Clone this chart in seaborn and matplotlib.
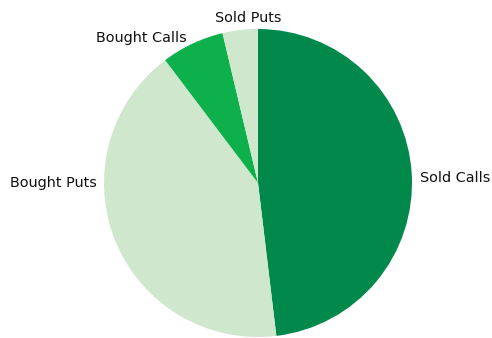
import matplotlib
matplotlib.use("Agg")
import matplotlib.pyplot as plt
import seaborn as sns

# Option positions share (%), clockwise from the top
categories = ["Sold Calls", "Bought Puts", "Bought Calls", "Sold Puts"]
shares = [48.1, 41.6, 6.6, 3.7]
colors = ["#00894b", "#cfe7cc", "#0eb04c", "#cfe7cc"]

sns.set_theme(style="white")
plt.rcParams["font.family"] = ["DejaVu Sans"]

fig = plt.figure(figsize=(4.92, 3.38), dpi=100)
ax = fig.add_axes([104 / 492, 1 / 338, 308 / 492, 308 / 338])

wedges, _ = ax.pie(
    shares,
    colors=colors,
    startangle=90,
    counterclock=False,
    radius=1.0,
    wedgeprops=dict(linewidth=0),
)
ax.set_xlim(-1, 1)
ax.set_ylim(-1, 1)
ax.set_aspect("equal")
ax.axis("off")

# Outside labels
label_pos = {
    "Sold Calls": (1.052, 0.035, "left"),
    "Bought Puts": (-1.045, 0.0, "right"),
    "Bought Calls": (-0.76, 0.94, "center"),
    "Sold Puts": (-0.065, 1.07, "center"),
}
for name in categories:
    x, y, ha = label_pos[name]
    ax.text(x, y, name, ha=ha, va="center", fontsize=10.4, color="#111111",
            clip_on=False)

fig.savefig("out.png", dpi=100)
